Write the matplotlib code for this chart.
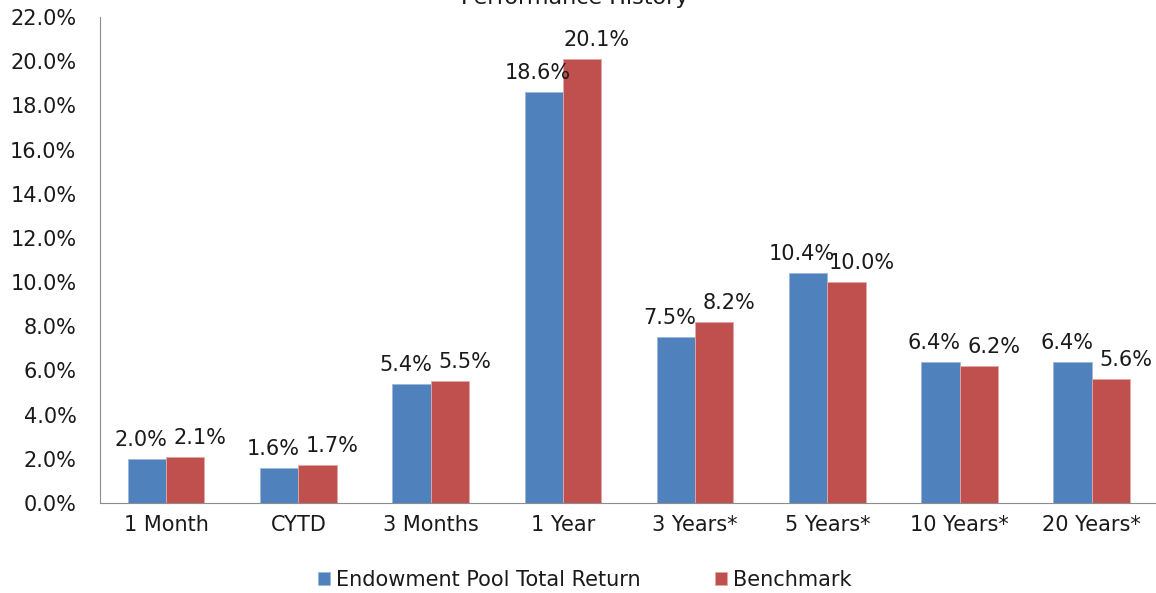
import numpy as np
import matplotlib.pyplot as plt
from matplotlib.ticker import FuncFormatter

plt.rcParams['font.family'] = ['DejaVu Sans']

# datos
periodos = ['1 Month', 'CYTD', '3 Months', '1 Year', '3 Years*', '5 Years*', '10 Years*', '20 Years*']
endowment = [2.0, 1.6, 5.4, 18.6, 7.5, 10.4, 6.4, 6.4]
benchmark = [2.1, 1.7, 5.5, 20.1, 8.2, 10.0, 6.2, 5.6]
series = ['Endowment Pool Total Return', 'Benchmark']

azul = '#4F81BD'
rojo = '#C0504D'
texto = '#1a1a1a'

fig = plt.figure(figsize=(11.56, 5.93), dpi=100)
ax = fig.add_axes([0.0865, 0.1518, 0.9152, 0.8195])

x = np.arange(len(periodos))
w = 0.29
b1 = ax.bar(x - w/2, endowment, w, color=azul, edgecolor='#9DB7DA', linewidth=0.6, label=series[0])
b2 = ax.bar(x + w/2, benchmark, w, color=rojo, edgecolor='#E3A9A7', linewidth=0.6, label=series[1])

for rect, v in zip(b1, endowment):
    ax.annotate('{:.1f}%'.format(v), (rect.get_x() + rect.get_width()/2, v),
                xytext=(-6, 9), textcoords='offset pixels', ha='center', va='bottom',
                fontsize=15, color=texto)
for rect, v in zip(b2, benchmark):
    ax.annotate('{:.1f}%'.format(v), (rect.get_x() + rect.get_width()/2, v),
                xytext=(15, 9), textcoords='offset pixels', ha='center', va='bottom',
                fontsize=15, color=texto)

ax.set_xlim(-0.5, len(periodos) - 0.5)
ax.set_ylim(0, 22)
ax.set_yticks(np.arange(0, 22.1, 2))
ax.yaxis.set_major_formatter(FuncFormatter(lambda v, p: '{:.1f}%'.format(v)))
ax.set_xticks(x)
ax.set_xticklabels(periodos)
ax.tick_params(axis='both', length=0, labelsize=15, colors=texto)
ax.tick_params(axis='y', pad=17)
ax.tick_params(axis='x', pad=9)

for s in ['top', 'right']:
    ax.spines[s].set_visible(False)
ax.spines['left'].set_color('#8c8c8c')
ax.spines['bottom'].set_color('#8c8c8c')

fig.text(0.497, 0.994, 'Performance History', ha='center', va='baseline', fontsize=16, color=texto)

fig.legend(handles=[b1, b2], labels=series, loc='center', bbox_to_anchor=(0.506, 0.022),
           ncol=2, frameon=False, fontsize=15, handlelength=0.55, handleheight=0.55,
           handletextpad=0.3, columnspacing=3.6, borderpad=0)
for t in fig.legends[0].get_texts():
    t.set_color(texto)

fig.savefig('out.png', dpi=100)
